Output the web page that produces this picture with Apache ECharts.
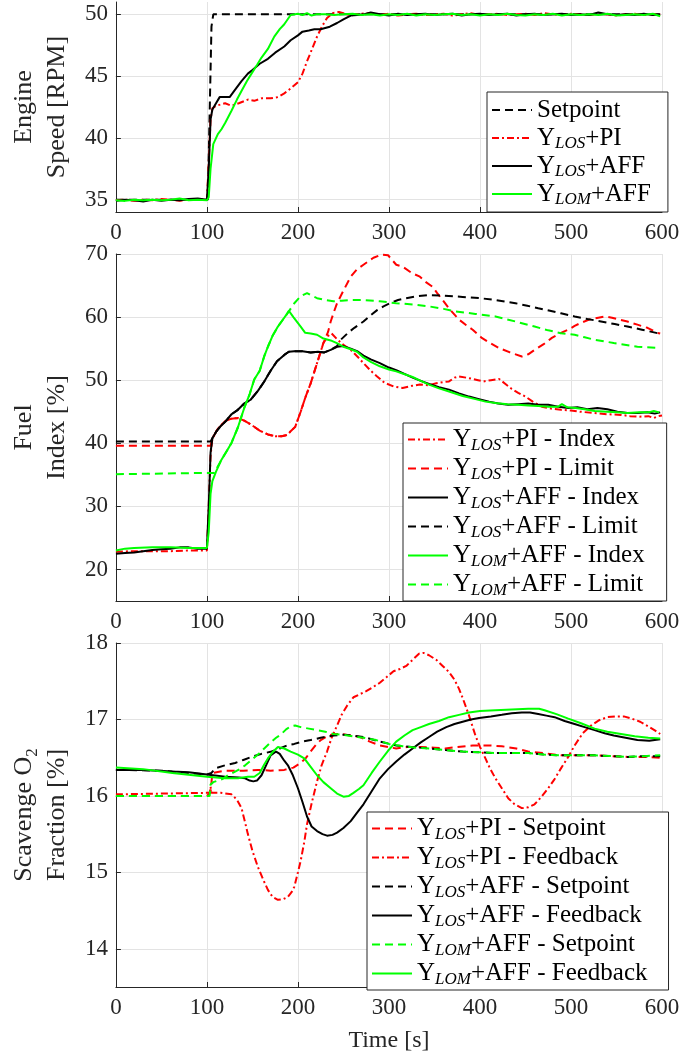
<!DOCTYPE html>
<html>
<head>
<meta charset="utf-8">
<title>Engine speed / fuel index / scavenge O2</title>
<script src="https://cdn.jsdelivr.net/npm/echarts@6/dist/echarts.min.js"></script>
<style>
  html, body { margin: 0; padding: 0; background: #fff; }
  #chart { width: 699px; height: 1054px; }
</style>
</head>
<body>
<div id="chart"></div>
<script>
// ---- data: [time s, value] ----
// engine speed [RPM]
const speedSetpoint = [[0,35],[101,35],[103,42],[105,49],[107,50],[600,50]];
const speedLosPI = [[0,34.95],[10,35],[20,34.9],[30,35],[40,34.95],[50,35.05],[60,35],[70,34.9],[80,35],[90,35.05],[100,35],[102,38],[104,41.5],[106,42.4],[110,42.6],[120,42.8],[127,42.6],[135,42.8],[145,43.1],[152,43],[160,43.2],[170,43.2],[178,43.3],[185,43.6],[192,44],[200,44.5],[205,45.2],[210,46.2],[215,47.1],[221,48.2],[227,49.1],[232,49.7],[238,50.1],[245,50.2],[250,50.1],[258,49.9],[265,50],[270,50.05],[280,50.1],[290,49.95],[300,50.05],[310,49.9],[320,50],[330,50.05],[340,49.95],[350,50],[360,50.05],[370,49.9],[380,50],[390,50.1],[400,49.95],[410,50],[420,50.05],[430,49.95],[440,50],[450,50.05],[460,49.95],[470,50.1],[480,50],[490,49.95],[500,50.05],[510,50],[520,49.95],[530,50.05],[540,50],[550,49.9],[560,50],[570,50.05],[580,49.95],[590,50],[598,50]];
const speedLosAFF = [[0,34.9],[10,35],[20,34.95],[30,34.85],[40,35],[50,34.9],[60,35],[70,34.95],[80,35.05],[90,35.1],[100,35],[102,37.5],[104,41.5],[106,42.3],[110,42.8],[114,43.3],[120,43.3],[125,43.3],[130,43.8],[138,44.6],[145,45.2],[150,45.5],[158,46],[167,46.4],[175,46.9],[185,47.4],[192,47.9],[200,48.3],[205,48.6],[212,48.7],[218,48.8],[225,48.8],[235,49],[243,49.3],[250,49.6],[258,49.9],[265,49.95],[272,50],[280,50.15],[290,50],[300,49.9],[310,50.05],[320,49.95],[330,50],[340,50.05],[350,49.95],[360,50],[370,50.05],[380,49.9],[390,50],[400,50.05],[410,49.95],[420,50],[430,50.05],[440,49.9],[450,50],[460,50.05],[470,49.95],[480,50],[490,50.05],[500,49.95],[510,50],[520,49.95],[530,50.15],[540,50],[550,49.95],[560,50],[570,49.95],[580,50.05],[590,49.95],[598,50]];
const speedLomAFF = [[0,34.95],[10,34.9],[20,35],[30,34.95],[40,35],[50,34.95],[60,35],[70,35.1],[80,34.95],[90,35],[100,34.95],[102,35.2],[104,37.5],[107,39.5],[112,40.3],[116,40.7],[120,41.2],[127,42.2],[133,43.1],[138,43.8],[144,44.6],[149,45.2],[155,45.9],[160,46.5],[167,47.2],[174,48.2],[180,48.8],[185,49.2],[192,49.95],[200,50.05],[205,49.95],[210,50.1],[215,49.9],[220,50],[230,50],[240,49.95],[250,50],[260,50.05],[270,49.95],[280,50],[290,49.9],[300,50],[310,49.95],[320,50.05],[330,49.9],[340,50],[350,49.95],[360,50],[370,50.05],[380,49.95],[390,50],[400,49.9],[410,50],[420,49.95],[430,50.05],[440,49.95],[450,49.9],[460,50],[470,49.95],[480,50.05],[490,49.9],[500,50],[510,49.95],[520,50],[530,49.95],[540,50.05],[550,49.9],[560,49.95],[570,50],[580,49.95],[590,50.05],[598,49.85]];

// fuel index [%]
const fuelPiIndex = [[0,22.8],[20,22.9],[40,22.9],[60,22.9],[80,23],[100,23],[102,30],[104,38],[106,40.8],[112,42.3],[120,43.5],[127,43.9],[134,44],[141,43.6],[149,42.9],[158,42],[167,41.4],[175,41.1],[182,41.1],[188,41.3],[192,41.9],[197,42.6],[203,45],[208,47.2],[214,49.5],[221,52.7],[228,55.9],[233,57],[237,57.4],[243,56.5],[250,55.6],[258,54.8],[265,53.8],[272,52.7],[280,51.5],[287,50.6],[295,49.6],[305,49],[315,48.75],[325,49.1],[334,49.3],[343,49.2],[352,49.5],[360,49.7],[366,49.8],[372,50.4],[377,50.6],[385,50.4],[392,50.2],[398,50],[404,49.8],[412,50],[421,50.2],[428,49.4],[435,48.6],[442,48],[450,47.4],[458,46.6],[468,45.8],[478,45.5],[489,45.3],[500,45.2],[510,45],[526,44.8],[540,44.6],[555,44.5],[565,44.3],[575,44.2],[585,44.3],[591,44],[596,44.3],[600,44.4]];
const fuelPiLimit = [[0,39.6],[104,39.6],[106,40.8],[112,42.3],[120,43.5],[127,43.9],[134,44],[141,43.6],[149,42.9],[158,42],[167,41.4],[175,41.1],[182,41.1],[188,41.3],[192,41.9],[197,42.6],[203,45],[208,47.2],[214,49.5],[221,52.7],[228,55.9],[233,57.6],[236,59.3],[240,61],[243,62.2],[250,64.2],[258,66.4],[265,67.6],[272,68.3],[283,69.4],[292,69.9],[299,69.8],[308,68.3],[315,68],[325,67],[334,66.4],[341,65.5],[348,64.8],[353,63.8],[359,62.7],[367,61.2],[377,59.6],[385,58.7],[392,58],[402,56.7],[411,55.9],[421,55.1],[433,54.4],[446,53.75],[453,54.1],[460,54.8],[470,55.7],[479,56.7],[489,57.5],[497,58],[504,58.6],[511,59.1],[520,59.6],[530,59.9],[537,60.1],[545,59.9],[553,59.6],[562,59.3],[573,58.8],[584,58.3],[595,57.5],[598,57.4]];
const fuelAffIndex = [[0,22.5],[10,22.6],[20,22.7],[30,22.9],[40,23.1],[50,23.2],[60,23.3],[70,23.5],[80,23.5],[90,23.3],[100,23.3],[102,30],[104,38.5],[106,40.8],[110,41.8],[115,42.7],[120,43.4],[127,44.6],[134,45.3],[141,46.3],[148,46.9],[156,48.3],[163,49.8],[170,51.5],[177,53],[185,54],[190,54.5],[196,54.6],[205,54.6],[214,54.4],[222,54.5],[229,54.4],[236,54.8],[243,55.3],[250,55.4],[258,55],[265,54.6],[272,53.9],[280,53.3],[290,52.7],[300,52],[308,51.6],[317,51],[326,50.4],[335,49.9],[344,49.4],[355,48.9],[366,48.5],[377,47.9],[388,47.4],[399,47],[410,46.6],[420,46.3],[431,46.1],[442,46.2],[453,46.3],[464,46.1],[475,46.1],[486,45.8],[497,45.6],[507,45.7],[518,45.4],[529,45.6],[540,45.4],[551,45],[562,44.8],[573,44.8],[584,44.9],[592,44.7],[598,44.9]];
const fuelAffLimit = [[0,40.3],[104,40.3],[106,40.8],[110,41.8],[115,42.7],[120,43.4],[127,44.6],[134,45.3],[141,46.3],[148,46.9],[156,48.3],[163,49.8],[170,51.5],[177,53],[185,54],[190,54.5],[196,54.6],[205,54.6],[214,54.4],[222,54.5],[229,54.4],[236,54.8],[243,55.4],[247,56.4],[255,57.5],[262,58.3],[272,59.3],[280,60.3],[287,61.1],[294,61.7],[301,62.2],[310,62.7],[319,63],[330,63.3],[344,63.5],[360,63.4],[381,63.2],[400,63],[417,62.7],[430,62.4],[439,62.2],[452,61.8],[464,61.4],[477,61],[489,60.6],[504,60.1],[518,59.7],[533,59.3],[548,58.9],[562,58.5],[578,58],[595,57.45]];
const fuelLomIndex = [[0,23],[10,23.3],[20,23.4],[40,23.5],[60,23.5],[80,23.4],[100,23.4],[102,26],[104,32],[106,34],[110,35.5],[116,37.4],[122,38.8],[127,40.05],[134,42.5],[141,45.6],[147,47.8],[152,50.1],[158,51.5],[163,53.8],[167,55.3],[172,57],[178,58.5],[183,59.5],[188,60.5],[190,61],[195,60],[203,58.5],[208,57.5],[214,57.4],[221,57.2],[228,56.6],[236,56.3],[244,55.8],[250,55.3],[258,54.9],[265,54.5],[272,53.6],[280,52.9],[290,52.2],[300,51.7],[308,51.4],[318,50.9],[326,50.5],[335,49.9],[344,49.3],[355,48.7],[366,48.2],[381,47.5],[395,47],[406,46.6],[417,46.4],[430,46.2],[442,46.1],[453,46],[464,45.9],[475,45.8],[486,45.8],[490,46.2],[496,45.7],[505,45.6],[515,45.4],[526,45.1],[540,45],[551,44.9],[562,44.8],[575,44.9],[585,44.9],[591,45.1],[597,44.9]];
const fuelLomLimit = [[0,35.1],[100,35.3],[108,35.3],[110,35.5],[116,37.4],[122,38.8],[127,40.05],[134,42.5],[141,45.6],[147,47.8],[152,50.1],[158,51.5],[163,53.8],[167,55.3],[172,57],[178,58.5],[183,59.5],[188,60.5],[190,60.9],[196,62.2],[203,63.3],[210,63.8],[215,63.4],[221,63],[230,62.7],[239,62.5],[248,62.6],[257,62.7],[272,62.7],[290,62.5],[308,62.2],[326,62],[344,61.7],[360,61.3],[373,60.9],[395,60.5],[417,60.1],[439,59.3],[460,58.5],[475,57.9],[489,57.45],[504,57.2],[515,56.8],[526,56.4],[547,55.9],[573,55.3],[598,55.1]];

// scavenge O2 fraction [%]
const o2PiSetpoint = [[0,16],[100,16],[104,16.05],[106,16.3],[120,16.33],[140,16.33],[156,16.34],[170,16.33],[185,16.34],[195,16.37],[203,16.43],[209,16.5],[214,16.58],[220,16.67],[225,16.73],[232,16.78],[239,16.81],[248,16.81],[258,16.79],[268,16.77],[279,16.71],[290,16.66],[308,16.62],[320,16.64],[334,16.64],[350,16.63],[362,16.62],[375,16.64],[392,16.66],[410,16.66],[424,16.65],[440,16.62],[453,16.58],[470,16.56],[489,16.53],[510,16.53],[526,16.53],[545,16.52],[562,16.51],[580,16.51],[598,16.5]];
const o2PiFeedback = [[0,16.02],[50,16.03],[100,16.04],[103,16.04],[104,16.12],[105,16.04],[115,16.04],[127,16.02],[133,15.95],[138,15.84],[142,15.65],[145,15.5],[150,15.28],[156,15.07],[162,14.9],[167,14.77],[172,14.68],[178,14.64],[184,14.65],[189,14.68],[193,14.74],[196,14.81],[200,15],[203,15.15],[207,15.4],[210,15.63],[215,15.9],[221,16.19],[226,16.4],[232,16.58],[237,16.76],[243,16.92],[248,17.06],[254,17.18],[261,17.29],[268,17.33],[275,17.37],[282,17.42],[290,17.48],[297,17.55],[305,17.63],[312,17.66],[319,17.7],[326,17.78],[333,17.86],[338,17.87],[344,17.84],[352,17.78],[359,17.7],[366,17.62],[372,17.52],[377,17.4],[381,17.28],[385,17.15],[388,17.05],[392,16.9],[395,16.79],[400,16.64],[406,16.49],[411,16.36],[417,16.23],[424,16.1],[431,15.97],[438,15.89],[446,15.84],[453,15.85],[460,15.89],[467,15.98],[475,16.1],[482,16.22],[489,16.36],[497,16.51],[504,16.66],[513,16.82],[522,16.92],[531,16.99],[540,17.03],[549,17.04],[558,17.04],[567,17.01],[576,16.97],[586,16.9],[593,16.85],[598,16.81]];
const o2AffSetpoint = [[0,16.34],[50,16.33],[100,16.28],[105,16.3],[109,16.36],[120,16.4],[131,16.43],[140,16.47],[149,16.51],[160,16.55],[171,16.58],[180,16.62],[188,16.66],[196,16.68],[205,16.71],[214,16.73],[225,16.76],[239,16.79],[250,16.8],[260,16.79],[272,16.77],[290,16.71],[308,16.66],[325,16.64],[344,16.62],[362,16.6],[381,16.58],[400,16.57],[417,16.56],[435,16.56],[453,16.56],[470,16.54],[489,16.53],[510,16.53],[526,16.53],[545,16.52],[562,16.51],[580,16.52],[598,16.52]];
const o2AffFeedback = [[0,16.34],[30,16.34],[62,16.32],[80,16.31],[100,16.28],[120,16.25],[135,16.24],[142,16.23],[147,16.2],[151,16.19],[155,16.2],[160,16.27],[165,16.4],[170,16.53],[176,16.58],[180,16.55],[185,16.46],[189,16.4],[194,16.28],[200,16.1],[205,15.92],[210,15.73],[215,15.6],[221,15.54],[227,15.5],[232,15.48],[238,15.49],[243,15.52],[250,15.58],[258,15.67],[265,15.78],[272,15.89],[281,16.06],[290,16.23],[299,16.35],[308,16.45],[317,16.54],[326,16.62],[335,16.7],[344,16.77],[353,16.84],[363,16.9],[372,16.94],[381,16.97],[390,17],[399,17.02],[412,17.04],[424,17.06],[435,17.08],[446,17.09],[455,17.09],[464,17.07],[473,17.05],[482,17.03],[493,16.98],[504,16.94],[515,16.9],[526,16.86],[537,16.82],[547,16.79],[560,16.76],[573,16.73],[586,16.72],[598,16.74]];
const o2LomSetpoint = [[0,16],[100,16],[103,16],[104,16.15],[107,16.18],[112,16.2],[117,16.22],[123,16.27],[130,16.31],[136,16.35],[142,16.4],[150,16.48],[157,16.55],[163,16.62],[170,16.7],[176,16.76],[181,16.8],[187,16.87],[192,16.91],[197,16.92],[203,16.9],[212,16.88],[221,16.86],[230,16.84],[239,16.81],[250,16.8],[260,16.78],[272,16.76],[286,16.73],[300,16.68],[315,16.65],[330,16.63],[344,16.62],[362,16.6],[381,16.58],[400,16.57],[417,16.56],[435,16.56],[453,16.56],[470,16.54],[489,16.53],[510,16.53],[526,16.53],[545,16.52],[562,16.51],[580,16.52],[598,16.53]];
const o2LomFeedback = [[0,16.37],[30,16.35],[62,16.3],[100,16.25],[120,16.23],[134,16.23],[145,16.25],[152,16.25],[158,16.3],[163,16.41],[167,16.49],[172,16.57],[178,16.64],[185,16.62],[192,16.58],[200,16.54],[207,16.49],[214,16.38],[221,16.27],[228,16.18],[236,16.1],[243,16.03],[250,15.99],[256,16],[261,16.04],[267,16.09],[272,16.14],[281,16.3],[290,16.45],[299,16.59],[308,16.71],[317,16.79],[326,16.86],[335,16.9],[344,16.94],[355,16.98],[366,17.03],[377,17.06],[388,17.09],[400,17.11],[417,17.12],[435,17.13],[453,17.14],[465,17.14],[471,17.12],[484,17.07],[497,17.01],[511,16.95],[526,16.88],[540,16.84],[555,16.81],[570,16.78],[585,16.76],[598,16.75]];

const timeTicks = [0, 100, 200, 300, 400, 500, 600];
const speedTicks = [35, 40, 45, 50];
const fuelTicks = [20, 30, 40, 50, 60, 70];
const o2Ticks = [14, 15, 16, 17, 18];

// ---- styling ----
const FONT = '"Liberation Serif", "Times New Roman", serif';
const AXIS = '#262626';
const GRID = '#e3e3e3';
const RED = '#ff0000', BLACK = '#000000', GREEN = '#00ff00';
const DASH = [8, 5];
const DASHDOT = [7, 3, 2, 3];

const chart = echarts.init(document.getElementById('chart'));

const grids = [
  { left: 110, top: 2, width: 552, height: 210 },
  { left: 110, top: 254, width: 552, height: 347 },
  { left: 110, top: 643, width: 552, height: 348 },
];

function xAxis(i) {
  const ax = {
    type: 'value', gridIndex: i, min: 0, max: 600, interval: 100,
    axisLine: { show: true, onZero: false, lineStyle: { color: AXIS, width: 1 } },
    axisTick: { inside: true, length: 5, lineStyle: { color: AXIS } },
    axisLabel: { fontFamily: FONT, fontSize: 23, color: AXIS, margin: 9,
      customValues: timeTicks },
    splitLine: { show: true, lineStyle: { color: GRID, width: 1 } },
  };
  if (i === 2) {
    ax.name = 'Time [s]';
    ax.nameLocation = 'middle';
    ax.nameGap = 42;
    ax.nameTextStyle = { fontFamily: FONT, fontSize: 24, color: AXIS };
  }
  return ax;
}

function yAxis(i, min, max, ticks, name) {
  return {
    type: 'value', gridIndex: i, min: min, max: max,
    name: name, nameLocation: 'middle', nameRotate: 90, nameGap: 40,
    nameTextStyle: { fontFamily: FONT, fontSize: 26, color: AXIS, lineHeight: 33,
      rich: { sub: { fontFamily: FONT, fontSize: 17, color: AXIS, verticalAlign: 'bottom', lineHeight: 22 } } },
    axisLine: { show: true, lineStyle: { color: AXIS, width: 1 } },
    axisTick: { inside: true, length: 5, lineStyle: { color: AXIS }, customValues: ticks },
    axisLabel: { fontFamily: FONT, fontSize: 23, color: AXIS, margin: 8, customValues: ticks },
    splitLine: { show: true, lineStyle: { color: GRID, width: 1 } },
  };
}

function line(name, data, idx, color, dash) {
  return {
    name: name, type: 'line', data: data, xAxisIndex: idx, yAxisIndex: idx,
    symbol: 'none', silent: true,
    lineStyle: { color: color, width: 2, type: dash },
    itemStyle: { color: color },
  };
}

// Y_LOS -> Y with italic subscript
const subFmt = (name) => name.replace(/Y_(LOS|LOM)/, 'Y{s|$1}');

function legend(left, top, names, lh, pad) {
  return {
    orient: 'vertical', left: left, top: top, itemGap: 0,
    itemWidth: 40, itemHeight: 4, padding: pad,
    backgroundColor: '#fff', borderColor: AXIS, borderWidth: 1, borderRadius: 0,
    selectedMode: false,
    itemStyle: { color: 'transparent', borderColor: 'transparent', borderWidth: 0 },
    textStyle: {
      fontFamily: FONT, fontSize: 25, color: '#000', lineHeight: lh,
      rich: { s: { fontFamily: FONT, fontSize: 17, fontStyle: 'italic', color: '#000',
        verticalAlign: 'bottom', lineHeight: 21 } },
    },
    formatter: subFmt,
    data: names,
  };
}

const option = {
  animation: false,
  backgroundColor: '#fff',
  grid: grids,
  xAxis: [xAxis(0), xAxis(1), xAxis(2)],
  yAxis: [
    yAxis(0, 34, 51, speedTicks, 'Engine\nSpeed [RPM]'),
    yAxis(1, 15, 70, fuelTicks, 'Fuel\nIndex [%]'),
    yAxis(2, 13.5, 18, o2Ticks, 'Scavenge O{sub|2}\nFraction [%]'),
  ],
  legend: [
    legend(487, 92, ['Setpoint', 'Y_LOS+PI', 'Y_LOS+AFF', 'Y_LOM+AFF'], 28, [4, 17, 4, 4]),
    legend(403, 423, ['Y_LOS+PI - Index', 'Y_LOS+PI - Limit', 'Y_LOS+AFF - Index',
      'Y_LOS+AFF - Limit', 'Y_LOM+AFF - Index', 'Y_LOM+AFF - Limit'], 29, [2, 22, 2, 4]),
    legend(367, 812, ['Y_LOS+PI - Setpoint', 'Y_LOS+PI - Feedback', 'Y_LOS+AFF - Setpoint',
      'Y_LOS+AFF - Feedback', 'Y_LOM+AFF - Setpoint', 'Y_LOM+AFF - Feedback'], 29, [2, 21, 2, 4]),
  ],
  series: [
    line('Setpoint', speedSetpoint, 0, BLACK, DASH),
    line('Y_LOS+PI', speedLosPI, 0, RED, DASHDOT),
    line('Y_LOS+AFF', speedLosAFF, 0, BLACK, 'solid'),
    line('Y_LOM+AFF', speedLomAFF, 0, GREEN, 'solid'),

    line('Y_LOS+PI - Index', fuelPiIndex, 1, RED, DASHDOT),
    line('Y_LOS+PI - Limit', fuelPiLimit, 1, RED, DASH),
    line('Y_LOS+AFF - Index', fuelAffIndex, 1, BLACK, 'solid'),
    line('Y_LOS+AFF - Limit', fuelAffLimit, 1, BLACK, DASH),
    line('Y_LOM+AFF - Index', fuelLomIndex, 1, GREEN, 'solid'),
    line('Y_LOM+AFF - Limit', fuelLomLimit, 1, GREEN, DASH),

    line('Y_LOS+PI - Setpoint', o2PiSetpoint, 2, RED, DASH),
    line('Y_LOS+PI - Feedback', o2PiFeedback, 2, RED, DASHDOT),
    line('Y_LOS+AFF - Setpoint', o2AffSetpoint, 2, BLACK, DASH),
    line('Y_LOS+AFF - Feedback', o2AffFeedback, 2, BLACK, 'solid'),
    line('Y_LOM+AFF - Setpoint', o2LomSetpoint, 2, GREEN, DASH),
    line('Y_LOM+AFF - Feedback', o2LomFeedback, 2, GREEN, 'solid'),
  ],
};

chart.setOption(option);
</script>
</body>
</html>
